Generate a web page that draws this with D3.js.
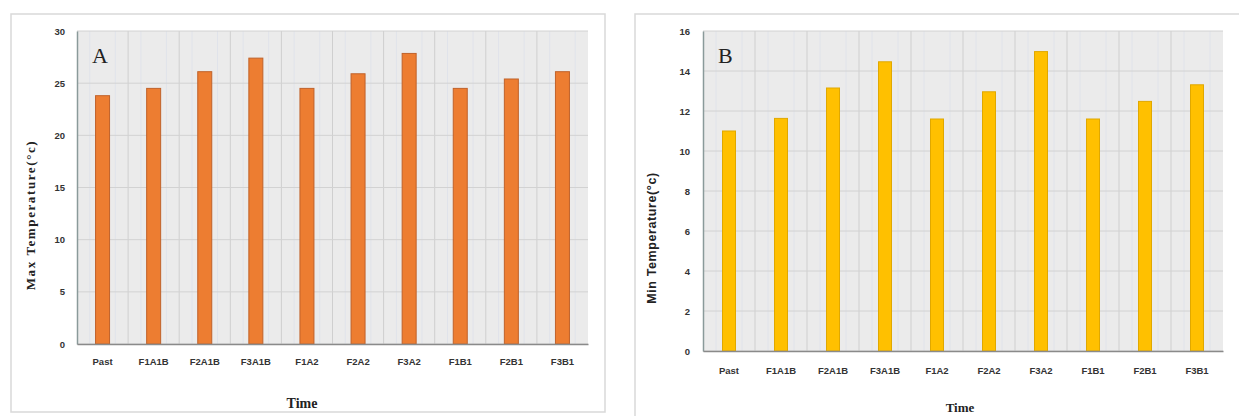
<!DOCTYPE html>
<html>
<head>
<meta charset="utf-8">
<script src="https://cdn.jsdelivr.net/npm/d3@7"></script>
<style>
  body { margin: 0; background: #fff; overflow: hidden; }
  .tick text { font-family: "Liberation Sans", Arial, sans-serif; font-weight: bold; fill: #333; }
</style>
</head>
<body>
<svg id="chart" width="1239" height="416"></svg>
<script>
// categories and values
const categories = ["Past", "F1A1B", "F2A1B", "F3A1B", "F1A2", "F2A2", "F3A2", "F1B1", "F2B1", "F3B1"];
const maxTemp = [23.8, 24.5, 26.1, 27.4, 24.5, 25.9, 27.85, 24.5, 25.4, 26.1];
const minTemp = [11.0, 11.63, 13.15, 14.46, 11.6, 12.96, 14.97, 11.6, 12.48, 13.31];
const maxTicks = [0, 5, 10, 15, 20, 25, 30];
const minTicks = [0, 2, 4, 6, 8, 10, 12, 14, 16];

const svg = d3.select("#chart");

function panel(cfg) {
    // outer frame
    svg.append("rect")
        .attr("x", cfg.frame[0]).attr("y", cfg.frame[1])
        .attr("width", cfg.frame[2]).attr("height", cfg.frame[3])
        .attr("fill", "#fff").attr("stroke", "#d9d9d9").attr("stroke-width", 1.5)

    let x = d3.scaleBand()
        .domain(categories)
        .range([cfg.left, cfg.right])

    let y = d3.scaleLinear()
        .domain([0, cfg.yMax])
        .range([cfg.bottom, cfg.top])

    let g = svg.append("g")

    // plot background
    g.append("rect")
        .attr("x", cfg.left).attr("y", cfg.top)
        .attr("width", cfg.right - cfg.left).attr("height", cfg.bottom - cfg.top)
        .attr("fill", "#ebebeb")

    // vertical grid at band edges, plus faint mid lines
    categories.forEach((c, i) => {
        if (i > 0) {
            g.append("line")
                .attr("x1", x(c)).attr("x2", x(c))
                .attr("y1", cfg.top).attr("y2", cfg.bottom)
                .attr("stroke", "#cfcfcf").attr("stroke-width", 1)
        }
        ;[0.25, 0.75].forEach(f => {
            g.append("line")
                .attr("x1", x(c) + x.bandwidth() * f).attr("x2", x(c) + x.bandwidth() * f)
                .attr("y1", cfg.top).attr("y2", cfg.bottom)
                .attr("stroke", "#e0e3ea").attr("stroke-width", 1)
        })
    })

    // horizontal grid
    cfg.ticks.forEach(t => {
        g.append("line")
            .attr("x1", cfg.left).attr("x2", cfg.right)
            .attr("y1", y(t)).attr("y2", y(t))
            .attr("stroke", "#d2d2d2").attr("stroke-width", 1)
    })

    // bars
    g.selectAll(".bar")
        .data(cfg.values)
        .enter().append("rect")
        .attr("class", "bar")
        .attr("x", (d, i) => x(categories[i]) + x.bandwidth() / 2 - cfg.barW / 2)
        .attr("y", d => y(d))
        .attr("width", cfg.barW)
        .attr("height", d => cfg.bottom - y(d))
        .attr("fill", cfg.color)
        .attr("stroke", cfg.edge).attr("stroke-width", 1)

    // axes
    let yAxis = d3.axisLeft(y).tickValues(cfg.ticks).tickSize(0).tickPadding(cfg.yPad)
    let ya = g.append("g").attr("transform", `translate(${cfg.left},0)`).call(yAxis)
    ya.select(".domain").attr("stroke", "#8a9a9a").attr("stroke-width", 1.5)
    ya.selectAll("text").attr("font-size", 9.5)

    let xAxis = d3.axisBottom(x).tickSize(0).tickPadding(cfg.xPad)
    let xa = g.append("g").attr("transform", `translate(0,${cfg.bottom})`).call(xAxis)
    xa.select(".domain").attr("stroke", "#8a8a8a").attr("stroke-width", 1.5)
    xa.selectAll("text").attr("font-size", 9.5)

    // panel letter
    g.append("text")
        .attr("x", cfg.left + 15).attr("y", cfg.top + 32)
        .attr("font-family", "Liberation Serif, serif")
        .attr("font-size", 22)
        .attr("fill", "#222")
        .text(cfg.letter)

    // axis titles
    g.append("text")
        .attr("x", cfg.xTitleX).attr("y", cfg.xTitleY)
        .attr("text-anchor", "middle")
        .attr("font-family", "Liberation Serif, serif")
        .attr("font-weight", "bold")
        .attr("font-size", cfg.xTitleSize)
        .attr("fill", "#222")
        .text("Time")

    g.append("text")
        .attr("transform", `translate(${cfg.yTitleX},${cfg.yTitleY}) rotate(-90)`)
        .attr("text-anchor", "middle")
        .attr("font-family", cfg.yTitleFont)
        .attr("font-weight", "bold")
        .attr("font-size", cfg.yTitleSize)
        .attr("letter-spacing", cfg.yTitleSpacing)
        .attr("fill", "#222")
        .text(cfg.yTitle)
}

panel({
    frame: [11, 14, 594, 398],
    left: 77, right: 588, top: 31, bottom: 344,
    yMax: 30, ticks: maxTicks, values: maxTemp,
    color: "#ed7d31", edge: "#c0622a", barW: 14,
    letter: "A", yTitle: "Max Temperature(°c)", yTitleFont: "Liberation Serif, serif",
    yTitleSize: 13, yTitleSpacing: 1.6,
    yTitleX: 35, yTitleY: 215, xTitleX: 302, xTitleY: 408, xTitleSize: 14, yPad: 12, xPad: 14
})

panel({
    frame: [635, 14, 640, 420],
    left: 703, right: 1223, top: 31, bottom: 351,
    yMax: 16, ticks: minTicks, values: minTemp,
    color: "#ffc000", edge: "#e0a800", barW: 13,
    letter: "B", yTitle: "Min Temperature(°c)", yTitleFont: "Liberation Sans, Arial, sans-serif",
    yTitleSize: 12.5, yTitleSpacing: 0.6,
    yTitleX: 656, yTitleY: 238, xTitleX: 960, xTitleY: 412, xTitleSize: 13, yPad: 13, xPad: 16
})
</script>
</body>
</html>
